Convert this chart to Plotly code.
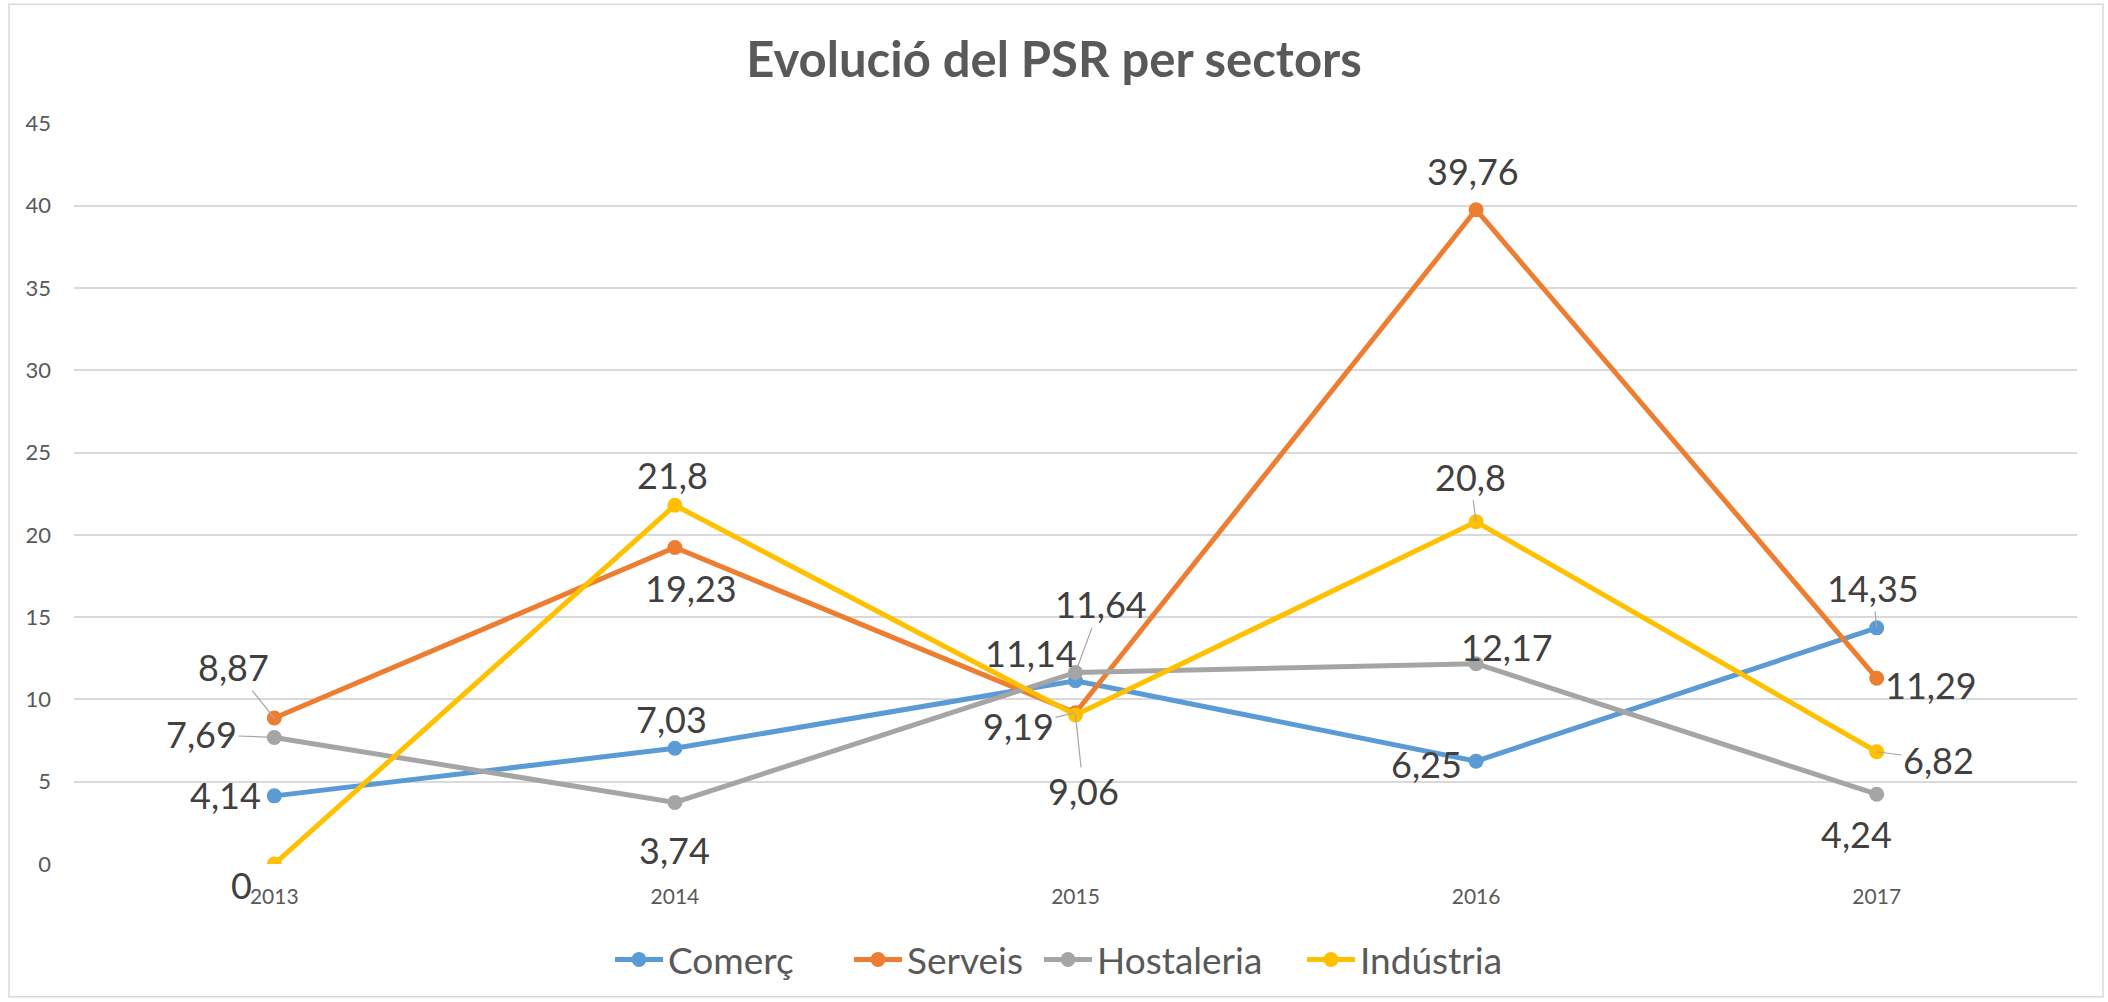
import plotly.graph_objects as go

years = ["2013", "2014", "2015", "2016", "2017"]
series_names = ["Comerç", "Serveis", "Hostaleria", "Indústria"]
comerc = [4.14, 7.03, 11.14, 6.25, 14.35]
serveis = [8.87, 19.23, 9.19, 39.76, 11.29]
hostaleria = [7.69, 3.74, 11.64, 12.17, 4.24]
industria = [0, 21.8, 9.06, 20.8, 6.82]
y_ticks = [0, 5, 10, 15, 20, 25, 30, 35, 40, 45]

colors = ["#5B9BD5", "#ED7D31", "#A5A5A5", "#FFC000"]
all_values = [comerc, serveis, hostaleria, industria]

# label offsets (px, centre of text relative to point) and whether a leader line is drawn
label_offsets = [
    [(-49, -1), (-3, -29), (-45, -28), (-50, 3), (-4, -40)],
    [(-41, -51), (16, 40), (-57, 13), (-3, -39), (54, 7)],
    [(-73, -3), (0, 48), (25, -68), (31, -17), (-20, 40)],
    [(-33, 21), (-2, -30), (8, 76), (-6, -45), (62, 8)],
]
leaders = [
    [False, False, False, False, True],
    [True, False, True, False, False],
    [True, False, True, False, False],
    [False, False, True, True, True],
]
# left edge (px) of each legend entry
legend_x_px = [610, 849, 1039, 1302]

FONT = "Lato, Carlito, Calibri, sans-serif"

W, H = 2108, 1002
L, R, T, B = 74, 31, 123, 137
pw, ph = W - L - R, H - T - B


def px_to_paper_x(px):
    return (px - L) / pw


def px_to_paper_y(py):
    return (H - B - py) / ph


fig = go.Figure()
annotations = []
legend_layouts = {}
for k, (name, vals, col, offs, leads) in enumerate(
        zip(series_names, all_values, colors, label_offsets, leaders)):
    lg = "legend" if k == 0 else f"legend{k + 1}"
    fig.add_trace(go.Scatter(
        x=years, y=vals, name=name, mode="lines+markers",
        line=dict(color=col, width=5),
        marker=dict(color=col, size=15),
        legend=lg,
    ))
    legend_layouts[lg] = dict(
        orientation="h", x=px_to_paper_x(legend_x_px[k]), xanchor="left",
        y=px_to_paper_y(960), yanchor="middle",
        font=dict(family=FONT, size=37, color="#595959"),
        itemwidth=48, bgcolor="rgba(0,0,0,0)", borderwidth=0,
    )
    for i, (yv, (dx, dy), lead) in enumerate(zip(vals, offs, leads)):
        annotations.append(dict(
            x=i, y=yv, xref="x", yref="y",
            text=f"{yv:g}".replace(".", ","),
            showarrow=True, ax=dx, ay=dy,
            arrowhead=0, arrowwidth=1.2, standoff=0,
            arrowcolor="#A6A6A6" if lead else "rgba(255,255,255,0)",
            font=dict(family=FONT, size=36, color="#404040"),
        ))

fig.update_layout(
    width=W, height=H,
    margin=dict(l=L, r=R, t=T, b=B, pad=0),
    paper_bgcolor="white", plot_bgcolor="white",
    title=dict(text="<b>Evolució del PSR per sectors</b>", x=0.5, xref="container",
               y=1 - 60 / H, yref="container", xanchor="center", yanchor="middle",
               font=dict(family=FONT, size=49, color="#595959")),
    xaxis=dict(type="category", range=[-0.5, 4.5], showgrid=False, showline=False,
               zeroline=False, ticks="", tickfont=dict(family=FONT, size=21, color="#595959"),
               ticklabelstandoff=18),
    yaxis=dict(range=[0, 45.03], tickvals=y_ticks, showgrid=True, gridcolor="#D9D9D9",
               gridwidth=1.5, zeroline=False, showline=False, ticks="",
               tickfont=dict(family=FONT, size=22, color="#595959"),
               ticklabelstandoff=22),
    annotations=annotations,
    shapes=[dict(type="rect", xref="paper", yref="paper",
                 x0=px_to_paper_x(9), x1=px_to_paper_x(2103),
                 y0=px_to_paper_y(998), y1=px_to_paper_y(4),
                 line=dict(color="#D9D9D9", width=1.5), layer="below")],
    showlegend=True,
    **legend_layouts,
)

fig.write_html("out.html", config={"displayModeBar": False},
               post_script="document.body.style.margin='0';document.body.style.overflow='hidden';")
